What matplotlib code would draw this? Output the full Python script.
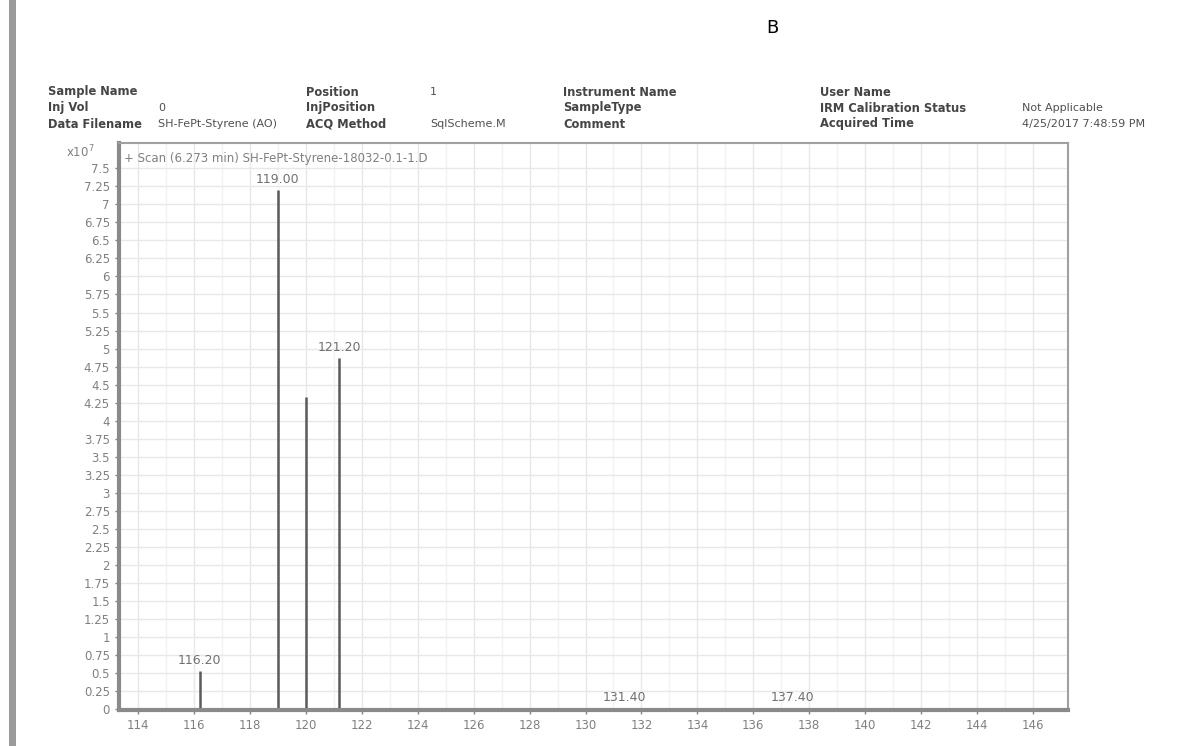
import matplotlib.pyplot as plt
import numpy as np

# spectrum data (m/z, counts x10^7)
peak_mz = [116.20, 119.00, 120.00, 121.20, 131.40, 137.40]
peak_counts = [0.53, 7.20, 4.33, 4.87, 0.02, 0.02]
label_mz = [116.20, 119.00, 121.20, 131.40, 137.40]
label_counts = [0.53, 7.20, 4.87, 0.02, 0.02]
label_text = ["116.20", "119.00", "121.20", "131.40", "137.40"]

x_ticks = list(range(114, 147, 2))
y_ticks = [i * 0.25 for i in range(31)]

# header block (Agilent style)
header_cols = [
    (["Sample Name", "Inj Vol", "Data Filename"], ["", "0", "SH-FePt-Styrene (AO)"]),
    (["Position", "InjPosition", "ACQ Method"], ["1", "", "SqlScheme.M"]),
    (["Instrument Name", "SampleType", "Comment"], ["", "", ""]),
    (["User Name", "IRM Calibration Status", "Acquired Time"], ["", "Not Applicable", "4/25/2017 7:48:59 PM"]),
]
label_x = [48, 306, 563, 820]
value_x = [158, 430, 690, 1022]
row_y = [92, 108, 124]

W, H = 1185, 746
fig = plt.figure(figsize=(W / 100, H / 100), dpi=100)
fig.patch.set_facecolor("white")

# left gray bar
fig.add_artist(plt.Rectangle((9 / W, 0), 7 / W, 1, transform=fig.transFigure,
                             color="#9a9a9a", lw=0))
fig.text(772 / W, 1 - 28 / H, "B", fontsize=13, ha="center", va="center", color="black")

for (labels, values), lx, vx in zip(header_cols, label_x, value_x):
    for lab, val, ry in zip(labels, values, row_y):
        fig.text(lx / W, 1 - ry / H, lab, fontsize=8.3, fontweight="bold",
                 color="#454545", va="center")
        if val:
            fig.text(vx / W, 1 - ry / H, val, fontsize=8, color="#505050", va="center")

ax = fig.add_axes([119 / W, 1 - 710 / H, (1068 - 119) / W, (710 - 143) / H])
ax.set_xlim(113.32, 147.25)
ax.set_ylim(-0.01, 7.85)

ax.vlines(peak_mz, 0, peak_counts, color="#5a5a5a", lw=1.8)
for mz, c, t in zip(label_mz, label_counts, label_text):
    ax.text(mz, c + 0.06, t, ha="center", va="bottom", fontsize=9, color="#707070")

ax.set_xticks(x_ticks)
ax.set_xticklabels([str(v) for v in x_ticks])
ax.set_xticks(np.arange(115, 147, 2), minor=True)
ax.set_yticks(y_ticks)
ax.set_yticklabels([f"{v:g}" for v in y_ticks])
ax.tick_params(axis="both", labelsize=8.5, colors="#808080", length=3, width=1)
ax.tick_params(axis="x", which="minor", length=0)

ax.grid(True, which="major", color="#e8e8e8", lw=1)
ax.grid(True, which="minor", axis="x", color="#f2f2f2", lw=1)
ax.set_axisbelow(True)

for side in ["left", "bottom"]:
    ax.spines[side].set_color("#8a8a8a")
    ax.spines[side].set_linewidth(3)
for side in ["top", "right"]:
    ax.spines[side].set_color("#a0a0a0")
    ax.spines[side].set_linewidth(1.5)

ax.text(0.005, 0.985, "+ Scan (6.273 min) SH-FePt-Styrene-18032-0.1-1.D",
        transform=ax.transAxes, fontsize=8.5, color="#808080", va="top", ha="left")
fig.text(66 / W, 1 - 152 / H, r"x10$^7$", fontsize=8.5, color="#808080", va="center")

fig.savefig("out.png", dpi=100)
